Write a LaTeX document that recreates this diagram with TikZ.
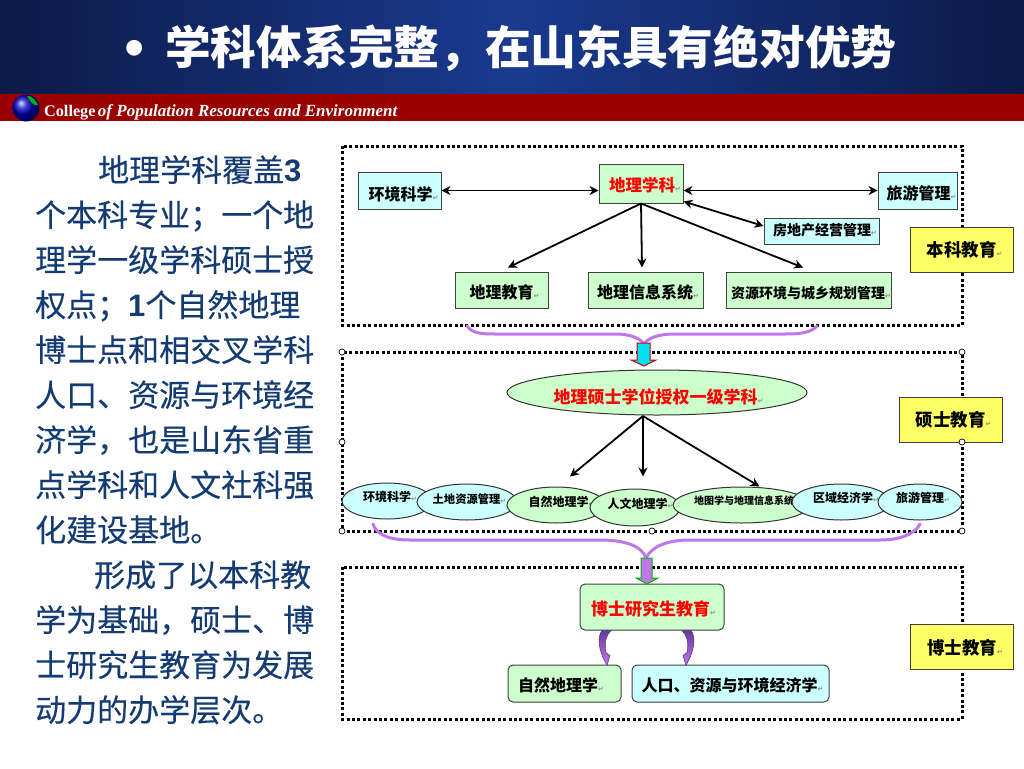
\documentclass[tikz,border=0pt]{standalone}
\usepackage{fontspec}
\usepackage{xcolor}
\usepackage{tikz}
\usetikzlibrary{shapes.geometric,arrows.meta}
\setmainfont{Noto Sans CJK SC}
\newfontfamily\paraface[FakeBold=0.25]{Noto Sans CJK SC}
\newfontfamily\latinserif{Liberation Serif}
\newfontfamily\latinsans{Liberation Sans}
\newfontfamily\markfont{DejaVu Sans}
\definecolor{navycol}{RGB}{12,26,72}
\definecolor{bluecol}{RGB}{26,58,143}
\definecolor{bandcol}{RGB}{153,0,0}
\definecolor{textcol}{RGB}{20,60,115}
\definecolor{cyancol}{RGB}{204,255,255}
\definecolor{greencol}{RGB}{204,255,204}
\definecolor{yellowcol}{RGB}{255,255,102}
\definecolor{purplecol}{RGB}{190,120,235}
\definecolor{darkpurple}{RGB}{120,70,180}
\newcommand{\retmark}{{\markfont\fontsize{7}{7}\selectfont\textcolor{black!45}{↵}}}
\newcommand{\lbl}[2]{{\bfseries\fontsize{#1}{#1}\selectfont #2\retmark}}
\tikzset{
  framebox/.style={line width=3pt,dash pattern=on 3pt off 2.4pt},
  rectbox/.style={draw=black!75,line width=1pt,inner sep=0pt},
  roundbox/.style={rectbox,rounded corners=5pt},
  ellbox/.style={ellipse,draw=black!80,line width=1pt,inner sep=0pt},
  stage/.style={rectbox,fill=yellowcol,minimum width=103pt,minimum height=45pt},
  boxtext/.style n args={3}{label={[shift={(#1,#2)},inner sep=0pt]center:{#3}}},
  linkline/.style={line width=1.8pt,>={Stealth[length=9pt,width=9pt]}},
  bracecurve/.style={draw=purplecol,line width=3pt,line cap=round},
  bentarrow/.style={draw=darkpurple!70!black,line width=0.5pt,top color=darkpurple!85!black,bottom color=purplecol},
  handle/.style={circle,draw=black,fill=white,line width=0.7pt,inner sep=0pt,minimum size=6pt},
}
\begin{document}
\begin{tikzpicture}[x=1pt,y=-1pt]
  \useasboundingbox (0,0) rectangle (1024,768);
  % Header band
  \shade[left color=navycol,right color=navycol,middle color=bluecol] (0,0) rectangle (1024,94);
  \fill[bandcol] (0,94) rectangle (1024,121);
  \node[text=white,font=\latinsans\fontsize{58}{58}\selectfont] (bullet) at (135,54) {•};
  \node[text=white,font=\bfseries\fontsize{45.7}{46}\selectfont,anchor=west,inner sep=0pt] (title) at (165,48) {学科体系完整，在山东具有绝对优势};
  \shade[ball color=blue!75!black] (26,108) circle (13.5);
  \fill[green!70!black] (27,96) .. controls (31,95) and (36,100) .. (38,105) .. controls (34,106) and (31,103) .. (27,96);
  \node[text=white,anchor=west,inner sep=0pt,font=\latinserif\bfseries] (college) at (44,112.5) {{\fontsize{16.2}{17}\selectfont College} {\itshape\fontsize{17}{17}\selectfont of Population Resources and Environment}};

  % Left column text
  \node[text=textcol,anchor=north west,inner sep=0pt,align=left,font=\paraface\fontsize{31}{45}\selectfont] (para) at (35,155) {
    \hspace*{63pt}地理学科覆盖{\latinsans\bfseries 3}\\
    个本科专业；一个地\\
    理学一级学科硕士授\\
    权点；{\latinsans\bfseries 1}个自然地理\\
    博士点和相交叉学科\\
    人口、资源与环境经\\
    济学，也是山东省重\\
    点学科和人文社科强\\
    化建设基地。\\
    \hspace*{59pt}形成了以本科教\\
    学为基础，硕士、博\\
    士研究生教育为发展\\
    动力的办学层次。};

  % Dotted frames
  \draw[framebox] (342,146) rectangle (962,325);
  \draw[framebox] (342,352) rectangle (962,531);
  \draw[framebox] (342,567) rectangle (962,719);

  % Panel: undergraduate
  \node[rectbox,fill=cyancol,minimum width=83pt,minimum height=37pt,boxtext={4pt}{-4pt}{\lbl{16}{环境科学}}] (envbox) at (399.5,190.5) {};
  \node[rectbox,fill=greencol,minimum width=84pt,minimum height=39pt,boxtext={4pt}{-2pt}{\textcolor{red}{\lbl{16.5}{地理学科}}}] (geobox) at (641,183.5) {};
  \node[rectbox,fill=cyancol,minimum width=79pt,minimum height=37pt,boxtext={4pt}{-3pt}{\lbl{16}{旅游管理}}] (tourbox) at (917.5,190.5) {};
  \node[rectbox,fill=cyancol,minimum width=115pt,minimum height=26pt,boxtext={3.5pt}{1pt}{\lbl{14}{房地产经营管理}}] (realbox) at (821.5,231) {};
  \node[rectbox,fill=greencol,minimum width=93pt,minimum height=36pt,boxtext={3pt}{-2pt}{\lbl{16}{地理教育}}] (edubox) at (501.5,290) {};
  \node[rectbox,fill=greencol,minimum width=115pt,minimum height=36pt,boxtext={2.5pt}{-2pt}{\lbl{16}{地理信息系统}}] (gisbox) at (645.5,290) {};
  \node[rectbox,fill=greencol,minimum width=165pt,minimum height=36pt,boxtext={2.5pt}{-3pt}{\lbl{14}{资源环境与城乡规划管理}}] (planbox) at (808.5,290) {};
  \node[stage,boxtext={3pt}{0pt}{\lbl{17.5}{本科教育}}] (ugstage) at (961.5,249.5) {};
  \draw[linkline,<->] (envbox.east) -- (envbox.east -| geobox.west);
  \draw[linkline,<->] (geobox.east |- tourbox.west) -- (tourbox.west);
  \draw[linkline,<->] ([yshift=2pt]geobox.south east) -- ([yshift=5pt]realbox.west);
  \draw[linkline,->] (geobox.south) -- ([shift={(6.5pt,4pt)}]edubox.north);
  \draw[linkline,->] (geobox.south) -- ([shift={(-3.5pt,4pt)}]gisbox.north);
  \draw[linkline,->] (geobox.south) -- ([shift={(-5.5pt,4pt)}]planbox.north);

  % Panel: master
  \node[ellbox,fill=greencol,minimum width=300pt,minimum height=45pt,boxtext={1.5pt}{-4pt}{\textcolor{red}{\lbl{17}{地理硕士学位授权一级学科}}}] (masterbox) at (657,392.5) {};
  \node[ellbox,fill=cyancol,minimum width=90pt,minimum height=36pt,boxtext={3pt}{4pt}{\lbl{12}{环境科学}}] (envell) at (387,501) {};
  \node[ellbox,fill=cyancol,minimum width=100pt,minimum height=36pt,boxtext={2.5pt}{3pt}{\lbl{11.3}{土地资源管理}}] (landell) at (467,502) {};
  \node[ellbox,fill=greencol,minimum width=98pt,minimum height=36pt,boxtext={5.5pt}{3pt}{\lbl{12}{自然地理学}}] (natell) at (556,505) {};
  \node[ellbox,fill=greencol,minimum width=90pt,minimum height=37pt,boxtext={5.5pt}{3.5pt}{\lbl{12}{人文地理学}}] (humell) at (635,507.5) {};
  \node[ellbox,fill=greencol,minimum width=137pt,minimum height=36pt,boxtext={5.5pt}{4pt}{\lbl{10}{地图学与地理信息系统}}] (mapell) at (741.5,505) {};
  \node[ellbox,fill=cyancol,minimum width=98pt,minimum height=36pt,boxtext={5pt}{4pt}{\lbl{12}{区域经济学}}] (regell) at (841,502) {};
  \node[ellbox,fill=cyancol,minimum width=84pt,minimum height=36pt,boxtext={3pt}{4pt}{\lbl{12}{旅游管理}}] (tourell) at (920,502) {};
  \node[stage,boxtext={3pt}{0pt}{\lbl{17.5}{硕士教育}}] (mastage) at (950.5,419.5) {};
  \coordinate (masterfoot) at (643,416);
  \draw[linkline,->] (masterfoot) -- ([shift={(14pt,10pt)}]natell.north);
  \draw[linkline,->] (masterfoot) -- ([shift={(8pt,12pt)}]humell.north);
  \draw[linkline,->] (masterfoot) -- ([shift={(18pt,0pt)}]mapell.north);

  % Panel: doctor
  \node[roundbox,fill=greencol,minimum width=144pt,minimum height=46pt,boxtext={1.5pt}{-2pt}{\textcolor{red}{\lbl{17}{博士研究生教育}}}] (phdbox) at (652,607) {};
  \node[roundbox,fill=greencol,minimum width=113pt,minimum height=37pt,boxtext={-3.5pt}{-2pt}{\lbl{16}{自然地理学}}] (natbox) at (564.5,683.5) {};
  \node[roundbox,fill=cyancol,minimum width=197pt,minimum height=37pt,boxtext={2pt}{-2pt}{\lbl{16}{人口、资源与环境经济学}}] (popbox) at (730.5,683.5) {};
  \node[stage,boxtext={3.5pt}{-1pt}{\lbl{17.5}{博士教育}}] (phdstage) at (961.5,647) {};
  \begin{scope}[shift={(phdbox.south)}]
    \path[bentarrow] (-50,0) .. controls (-54,5) and (-54,16) .. (-49,27) -- (-45,35) -- (-42,25) -- (-46,22) .. controls (-48,12) and (-46,5) .. (-41,0) -- cycle;
    \path[bentarrow] (39,0) .. controls (43,5) and (43,16) .. (38,27) -- (34,35) -- (31,25) -- (35,22) .. controls (37,12) and (35,5) .. (30,0) -- cycle;
  \end{scope}

  % Merging curves and block arrows
  \coordinate (topleft) at (467,326);
  \coordinate (topright) at (817,326);
  \coordinate (topjoin) at (644,344);
  \draw[bracecurve] (topleft) .. controls (472,333) and (480,334) .. (495,334) -- (615,334) .. controls (630,334) and (640,338) .. (topjoin);
  \draw[bracecurve] (topright) .. controls (810,333) and (800,334) .. (785,334) -- (675,334) .. controls (658,334) and (648,338) .. (topjoin);
  \fill[draw=red!80!black,line width=1pt,fill={rgb,255:red,0;green,225;blue,240}] (637,343) -- (650,343) -- (650,360) -- (656,360) -- (644,366) -- (631,360) -- (637,360) -- cycle;
  \coordinate (midleft) at (373,524);
  \coordinate (midright) at (920,524);
  \coordinate (midjoin) at (646,558);
  \draw[bracecurve] (midleft) .. controls (376,534) and (388,540) .. (410,540) -- (600,540) .. controls (625,540) and (642,546) .. (midjoin);
  \draw[bracecurve] (midright) .. controls (915,534) and (900,540) .. (880,540) -- (690,540) .. controls (668,540) and (652,546) .. (midjoin);
  \fill[draw=green!70!black,line width=1pt,fill=purplecol] (641,558) -- (652,558) -- (652,578) -- (658,578) -- (647,584) -- (636,578) -- (641,578) -- cycle;

  % Selection handles
  \foreach \hx/\hy in {342/352,962/352,342/442,962/442,342/531,652/531,962/531}
    \node[handle] at (\hx,\hy) {};
\end{tikzpicture}
\end{document}
